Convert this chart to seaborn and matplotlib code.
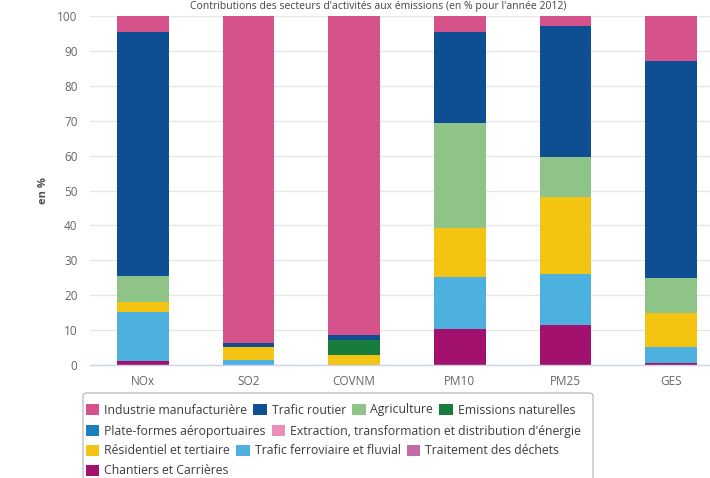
import matplotlib
matplotlib.use("Agg")
import matplotlib.pyplot as plt
import seaborn as sns
import numpy as np
import pandas as pd
from matplotlib.patches import FancyBboxPatch, Patch

# ---------------- data ----------------
categories = ["NOx", "SO2", "COVNM", "PM10", "PM25", "GES"]
series_names = [
    "Industrie manufacturière",
    "Trafic routier",
    "Agriculture",
    "Emissions naturelles",
    "Plate-formes aéroportuaires",
    "Extraction, transformation et distribution d'énergie",
    "Résidentiel et tertiaire",
    "Trafic ferroviaire et fluvial",
    "Traitement des déchets",
    "Chantiers et Carrières",
]
industrie = [4.5, 93.8, 91.4, 4.7, 2.8, 12.9]
trafic_routier = [70.0, 1.0, 1.4, 26.1, 37.7, 62.3]
agriculture = [7.4, 0.0, 0.0, 30.0, 11.5, 10.0]
emissions_naturelles = [0.0, 0.0, 4.3, 0.0, 0.0, 0.0]
plateformes = [0.0, 0.0, 0.0, 0.0, 0.0, 0.0]
extraction = [0.0, 0.0, 0.0, 0.0, 0.0, 0.0]
residentiel = [2.8, 3.9, 2.9, 13.9, 21.9, 9.7]
ferroviaire = [14.2, 1.3, 0.0, 15.1, 14.6, 4.6]
dechets = [0.0, 0.0, 0.0, 0.0, 0.0, 0.0]
chantiers = [1.1, 0.0, 0.0, 10.2, 11.5, 0.5]
series_values = [industrie, trafic_routier, agriculture, emissions_naturelles,
                 plateformes, extraction, residentiel, ferroviaire, dechets, chantiers]
colors = ["#d5528a", "#0d4f92", "#8fc488", "#177c3c", "#1b7fbe",
          "#ea90b8", "#f3c411", "#4db1e0", "#c26ba4", "#a3116f"]
yticks = list(range(0, 101, 10))
title = "Contributions des secteurs d'activités aux émissions (en % pour l'année 2012)"

# ---------------- figure ----------------
sns.set_theme(style="white")
plt.rcParams["font.family"] = ["Open Sans", "DejaVu Sans"]

fig = plt.figure(figsize=(7.10, 4.78), dpi=100)
ax = fig.add_axes([90 / 710, 113 / 478, 634 / 710, 349 / 478])

vals = np.array(series_values)
# cumulative from the bottom (last series at bottom)
cum_from_bottom = np.cumsum(vals[::-1], axis=0)[::-1]
for i, name in enumerate(series_names):
    df = pd.DataFrame({"cat": categories, "v": cum_from_bottom[i]})
    sns.barplot(data=df, x="cat", y="v", color=colors[i], saturation=1,
                width=0.49, ax=ax, linewidth=0, zorder=3)

ax.set_xlim(-0.5, len(categories) - 0.5)
ax.set_ylim(0, 100)
ax.set_yticks(yticks)
ax.set_xlabel("")
ax.set_ylabel("")
ax.grid(axis="y", color="#e6e6e6", linewidth=1, zorder=0)
ax.grid(axis="x", visible=False)
for s in ["top", "right", "left"]:
    ax.spines[s].set_visible(False)
ax.spines["bottom"].set_color("#ccd6eb")
ax.spines["bottom"].set_linewidth(1)
ax.spines["bottom"].set_zorder(4)
ax.tick_params(axis="y", length=0, pad=9, labelsize=8.5, labelcolor="#666666")
ax.tick_params(axis="x", which="major", length=0, pad=7, labelsize=8.5, labelcolor="#666666")
ax.set_xticks(np.arange(len(categories)) + 0.5, minor=True)
ax.tick_params(axis="x", which="minor", length=5, color="#ccd6eb", width=1, direction="out")

fig.text(43 / 710, 1 - 190 / 478, "en %", rotation=90, ha="center", va="center",
         fontsize=8, fontweight="bold", color="#4d4d4d")
fig.text(378 / 710, 1 - 7 / 478, title, ha="center", va="center", fontsize=7.5, color="#444444")

# legend frame
frame = FancyBboxPatch((83 / 710, -0.05), (593 - 83) / 710, (478 - 393) / 478 + 0.05,
                       boxstyle="round,pad=0,rounding_size=0.006",
                       transform=fig.transFigure, facecolor="white",
                       edgecolor="#b0b0b0", linewidth=0.8)
fig.patches.append(frame)

handles = [Patch(facecolor=c, edgecolor="none") for c in colors]
rows = [[0, 1, 2, 3], [4, 5], [6, 7, 8], [9]]
row_y = [410, 431, 451, 471]
for r, yy in zip(rows, row_y):
    leg = fig.legend([handles[i] for i in r], [series_names[i] for i in r],
                     loc="center left", bbox_to_anchor=(86 / 710, 1 - yy / 478),
                     ncol=len(r), frameon=False, fontsize=8.8,
                     handlelength=1.1, handleheight=0.95, handletextpad=0.4,
                     columnspacing=0.5, borderpad=0, borderaxespad=0)
    for t in leg.get_texts():
        t.set_color("#3d3d3d")

fig.savefig("out.png", dpi=100)
